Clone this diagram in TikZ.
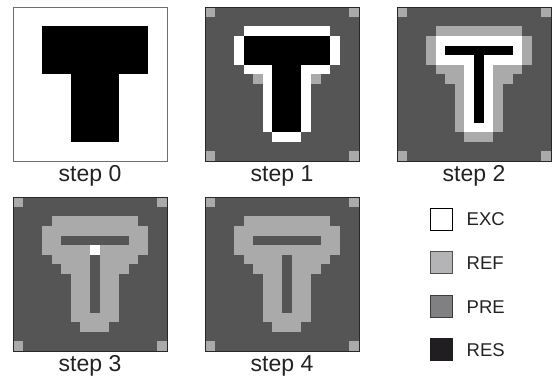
\documentclass[tikz,border=0pt]{standalone}
\usepackage{fontspec}
\setmainfont{Liberation Sans}
\begin{document}
\begin{tikzpicture}[x=1pt,y=-1pt,
  dk/.style={fill={rgb,255:red,85;green,85;blue,85}},
  lg/.style={fill={rgb,255:red,170;green,170;blue,170}},
  wh/.style={fill=white},
  bk/.style={fill=black},
  steplabel/.style={anchor=base,inner sep=0pt,text={rgb,255:red,34;green,34;blue,34},font=\fontsize{23}{27}\selectfont},
  legtext/.style={anchor=base west,inner sep=0pt,text={rgb,255:red,34;green,34;blue,34},font=\fontsize{18.5}{22}\selectfont},
  legbox/.style={minimum size=22pt,inner sep=0pt,anchor=north west,line width=0.9pt}]
\useasboundingbox (0,0) rectangle (552,381);
\def\cs{9.625}
% #1 style, cols #2..#4, rows #3..#5 (inclusive)
\newcommand\pxrect[5]{\path[#1] ({#2*\cs},{#3*\cs}) rectangle ({(#4+1)*\cs},{(#5+1)*\cs});}
\newcommand\corners{\pxrect{lg}{0}{0}{0}{0}\pxrect{lg}{15}{0}{15}{0}\pxrect{lg}{0}{15}{0}{15}\pxrect{lg}{15}{15}{15}{15}}

% step 0
\begin{scope}[shift={(13,7)}]
  \path[fill=white] (0,0) rectangle (154,154);
  \pxrect{bk}{3}{2}{13}{6}
  \pxrect{bk}{6}{7}{10}{13}
  \draw[line width=0.9pt,draw={rgb,255:red,110;green,110;blue,110}] (0,0) rectangle (154,154);
\end{scope}
\node[steplabel] (l0) at (90,181.7) {step 0};

% step 1
\begin{scope}[shift={(205,7)}]
  \pxrect{dk}{0}{0}{15}{15}
  \corners
  \pxrect{wh}{4}{2}{12}{2}
  \pxrect{wh}{3}{3}{3}{5}
  \pxrect{wh}{13}{3}{13}{5}
  \pxrect{bk}{4}{3}{12}{5}
  \pxrect{wh}{4}{6}{6}{6}
  \pxrect{wh}{10}{6}{12}{6}
  \pxrect{bk}{7}{6}{9}{12}
  \pxrect{wh}{6}{7}{6}{12}
  \pxrect{wh}{10}{7}{10}{12}
  \pxrect{lg}{5}{7}{5}{7}
  \pxrect{lg}{11}{7}{11}{7}
  \pxrect{wh}{7}{13}{9}{13}
  \draw[line width=0.8pt,draw={rgb,255:red,40;green,40;blue,40}] (0,0) rectangle (154,154);
\end{scope}
\node[steplabel] (l1) at (282,181.7) {step 1};

% step 2
\begin{scope}[shift={(397,7)}]
  \pxrect{dk}{0}{0}{15}{15}
  \corners
  \pxrect{lg}{4}{2}{12}{2}
  \pxrect{lg}{3}{3}{3}{5}
  \pxrect{lg}{13}{3}{13}{5}
  \pxrect{lg}{4}{6}{6}{6}
  \pxrect{lg}{10}{6}{12}{6}
  \pxrect{lg}{5}{7}{6}{7}
  \pxrect{lg}{10}{7}{11}{7}
  \pxrect{lg}{6}{8}{6}{12}
  \pxrect{lg}{10}{8}{10}{12}
  \pxrect{lg}{7}{13}{9}{13}
  \pxrect{wh}{4}{3}{12}{5}
  \pxrect{wh}{7}{6}{9}{12}
  \pxrect{bk}{5}{4}{11}{4}
  \pxrect{bk}{8}{5}{8}{11}
  \draw[line width=0.8pt,draw={rgb,255:red,40;green,40;blue,40}] (0,0) rectangle (154,154);
\end{scope}
\node[steplabel] (l2) at (474,181.7) {step 2};

% step 3
\begin{scope}[shift={(13,197)}]
  \pxrect{dk}{0}{0}{15}{15}
  \corners
  \pxrect{lg}{4}{2}{12}{2}
  \pxrect{lg}{3}{3}{13}{5}
  \pxrect{lg}{4}{6}{12}{6}
  \pxrect{lg}{5}{7}{11}{7}
  \pxrect{lg}{6}{8}{10}{12}
  \pxrect{lg}{7}{13}{9}{13}
  \pxrect{dk}{5}{4}{11}{4}
  \pxrect{dk}{8}{6}{8}{11}
  \pxrect{wh}{8}{5}{8}{5}
  \draw[line width=0.8pt,draw={rgb,255:red,40;green,40;blue,40}] (0,0) rectangle (154,154);
\end{scope}
\node[steplabel] (l3) at (90,371.7) {step 3};

% step 4
\begin{scope}[shift={(205,197)}]
  \pxrect{dk}{0}{0}{15}{15}
  \corners
  \pxrect{lg}{4}{2}{12}{2}
  \pxrect{lg}{3}{3}{13}{5}
  \pxrect{lg}{4}{6}{12}{6}
  \pxrect{lg}{5}{7}{11}{7}
  \pxrect{lg}{6}{8}{10}{12}
  \pxrect{lg}{7}{13}{9}{13}
  \pxrect{dk}{5}{4}{11}{4}
  \pxrect{dk}{8}{6}{8}{11}
  \draw[line width=0.8pt,draw={rgb,255:red,40;green,40;blue,40}] (0,0) rectangle (154,154);
\end{scope}
\node[steplabel] (l4) at (282,371.7) {step 4};

% legend
\node[legbox,draw=black,fill=white] (exc) at (430,207.7) {};
\node[legbox,draw={rgb,255:red,80;green,80;blue,80},fill={rgb,255:red,180;green,180;blue,182}] (ref) at (430,251) {};
\node[legbox,draw={rgb,255:red,60;green,60;blue,60},fill={rgb,255:red,128;green,128;blue,130}] (pre) at (430,295) {};
\node[legbox,draw={rgb,255:red,30;green,30;blue,30},fill={rgb,255:red,32;green,30;blue,32}] (res) at (430,338.3) {};
\node[legtext] (texc) at (466.5,225.7) {EXC};
\node[legtext] (tref) at (466.5,269) {REF};
\node[legtext] (tpre) at (466.5,313) {PRE};
\node[legtext] (tres) at (466.5,356.3) {RES};
\end{tikzpicture}
\end{document}
